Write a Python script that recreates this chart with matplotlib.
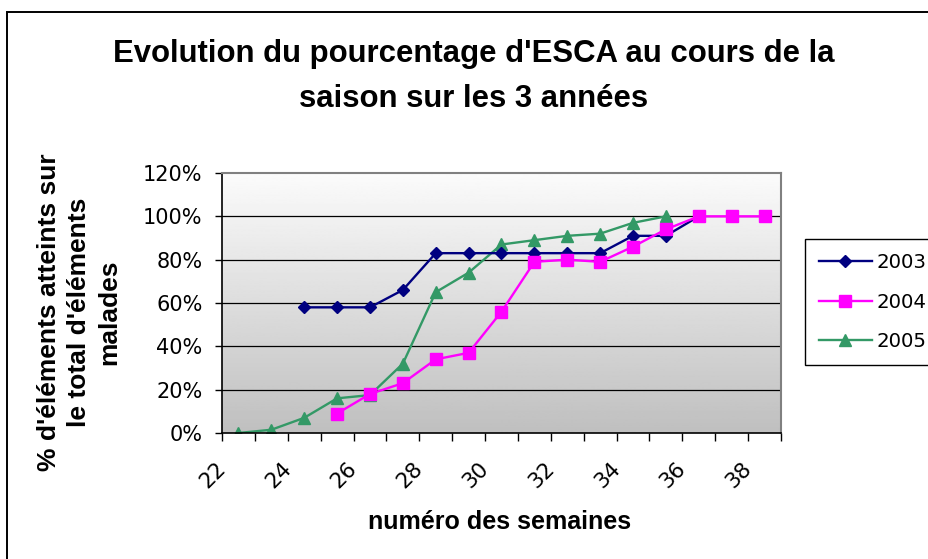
import matplotlib
matplotlib.use("Agg")
import matplotlib.pyplot as plt
import numpy as np
from matplotlib.patches import Rectangle
from matplotlib.ticker import PercentFormatter, FixedLocator
from matplotlib.transforms import ScaledTranslation

weeks = [22, 23, 24, 25, 26, 27, 28, 29, 30, 31, 32, 33, 34, 35, 36, 37, 38]
years = ["2003", "2004", "2005"]
# % of affected elements per week (None = no measurement)
pct_2003 = [None, None, 58, 58, 58, 66, 83, 83, 83, 83, 83, 83, 91, 91, 100, None, None]
pct_2004 = [None, None, None, 9, 18, 23, 34, 37, 56, 79, 80, 79, 86, 94, 100, 100, 100]
pct_2005 = [0, 1.5, 7, 16, 17.5, 32, 65, 74, 87, 89, 91, 92, 97, 100, None, None, None]
y_ticks = [0, 20, 40, 60, 80, 100, 120]

W, H = 929, 559
fig = plt.figure(figsize=(W / 100, H / 100), dpi=100)
fig.patch.set_facecolor("white")

def fx(px):
    return px / W

def fy(py):
    return 1 - py / H

# outer chart border (right / bottom edges fall outside the picture)
fig.add_artist(Rectangle((fx(7), -0.2), 1.5, fy(12) + 0.2, transform=fig.transFigure,
                         fill=False, ec="black", lw=1.4, clip_on=False))

left, right, top, bottom = 222, 781, 173, 433
ax = fig.add_axes([fx(left), fy(bottom), fx(right - left), (bottom - top) / H])

x = np.arange(len(weeks))
ax.set_xlim(-0.5, len(weeks) - 0.5)
ax.set_ylim(0, 120)

# plot area gradient
grad = np.linspace(0.75, 0.985, 256).reshape(-1, 1)
ax.imshow(grad, cmap="gray", vmin=0, vmax=1, aspect="auto",
          extent=[0, 1, 0, 1], transform=ax.transAxes, origin="lower", zorder=0)

for yv in y_ticks[1:-1]:
    ax.axhline(yv, color="black", lw=0.9, zorder=1)

def series(vals):
    return np.array([np.nan if v is None else v for v in vals], dtype=float)

l1, = ax.plot(x, series(pct_2003), color="#000080", lw=1.7, marker="D", ms=6.2,
              mfc="#000080", mec="#000080", zorder=3, label=years[0])
l2, = ax.plot(x, series(pct_2004), color="#FF00FF", lw=1.7, marker="s", ms=8.5,
              mfc="#FF00FF", mec="#FF00FF", zorder=4, label=years[1])
l3, = ax.plot(x, series(pct_2005), color="#339966", lw=1.7, marker="^", ms=8.5,
              mfc="#339966", mec="#339966", zorder=2, label=years[2])

ax.set_yticks(y_ticks)
ax.yaxis.set_major_formatter(PercentFormatter(xmax=100, decimals=0))
ax.tick_params(axis="y", direction="out", length=5, width=1, pad=9,
               labelsize=15, labelfontfamily="DejaVu Sans")

# tick marks at category boundaries, labels every other week
ax.xaxis.set_minor_locator(FixedLocator(np.arange(-0.5, len(weeks), 1.0)))
ax.set_xticks(x[::2])
ax.set_xticklabels([str(w) for w in weeks[::2]], rotation=45, ha="right", va="top",
                   fontsize=15.5, family="DejaVu Sans")
ax.tick_params(axis="x", which="major", length=0, pad=18)
ax.tick_params(axis="x", which="minor", direction="out", length=6, width=1)
off = ScaledTranslation(-9 / 100, 0, fig.dpi_scale_trans)
for lbl in ax.get_xticklabels():
    lbl.set_transform(lbl.get_transform() + off)

for s in ["top", "right"]:
    ax.spines[s].set_color("#808080")
    ax.spines[s].set_linewidth(1.5)
for s in ["left", "bottom"]:
    ax.spines[s].set_color("black")
    ax.spines[s].set_linewidth(1.2)

# title and axis labels
bold = dict(family="Liberation Sans", weight="bold")
fig.text(fx(474), fy(62), "Evolution du pourcentage d'ESCA au cours de la",
         ha="center", va="baseline", fontsize=22.4, **bold)
fig.text(fx(474), fy(107), "saison sur les 3 années",
         ha="center", va="baseline", fontsize=22.4, **bold)
fig.text(fx(500), fy(529), "numéro des semaines", ha="center", va="baseline",
         fontsize=18, **bold)
fig.text(fx(79), fy(312), "% d'éléments atteints sur\nle total d'éléments\nmalades",
         ha="center", va="center", rotation=90, fontsize=19, linespacing=1.33,
         multialignment="center", **bold)

leg = fig.legend(handles=[l1, l2, l3], loc="upper left",
                 bbox_to_anchor=(fx(805), fy(239)), frameon=True, fancybox=False,
                 edgecolor="black", framealpha=1, borderpad=0.7, handlelength=2.7,
                 handletextpad=0.25, labelspacing=1.05, borderaxespad=0,
                 prop=dict(family="DejaVu Sans", size=14.2))
leg.get_frame().set_linewidth(1.0)

fig.savefig("out.png", dpi=100)
